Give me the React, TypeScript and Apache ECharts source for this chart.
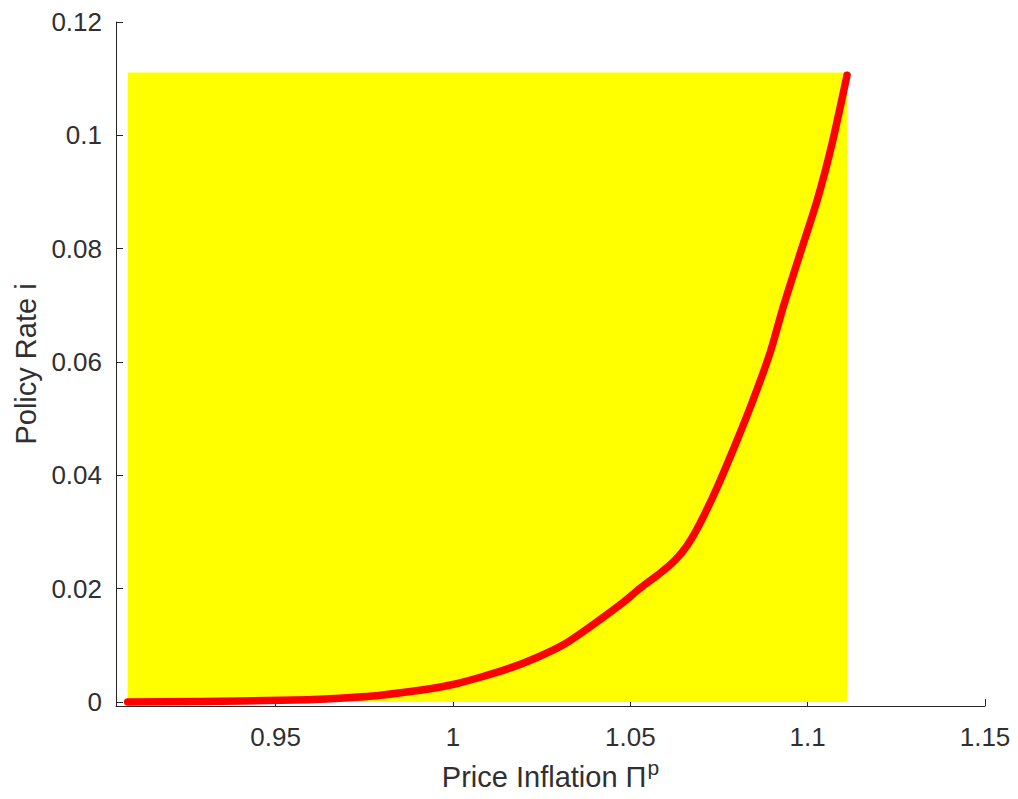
import React, { useEffect, useRef } from "react";
import * as echarts from "echarts";

const inflation = [
  0.9083, 0.9289, 0.9514, 0.9655, 0.9796, 0.9993, 1.017, 1.0311, 1.0472, 1.0528,
  1.0585, 1.0627, 1.0661, 1.0697, 1.0745, 1.0801, 1.0846, 1.0894, 1.0931, 1.0979,
  1.1027, 1.1069, 1.1111,
];
const policyRate = [
  0.0, 0.0001, 0.0003, 0.0006, 0.0012, 0.003, 0.0062, 0.0101, 0.0172, 0.0201,
  0.0228, 0.0251, 0.0277, 0.0316, 0.0379, 0.0462, 0.0533, 0.0616, 0.0697, 0.0792,
  0.0886, 0.0986, 0.1106,
];
const regionX = [0.9083, 1.1111];
const regionY = [0, 0.1111];
const xTicks = [0.95, 1, 1.05, 1.1, 1.15];
const yTicks = [0, 0.02, 0.04, 0.06, 0.08, 0.1, 0.12];
const xRange = [0.905, 1.15];
const yRange = [-0.0007, 0.12];

const AXIS_COLOR = "#262626";
const TEXT_COLOR = "#303030";
const FONT = "'Liberation Sans', Arial, Helvetica, sans-serif";
const TICK_SIZE = 26;
const TITLE_SIZE = 29;

export default function App() {
  const ref = useRef<HTMLDivElement>(null);
  useEffect(() => {
    if (!ref.current) return;
    const chart = echarts.init(ref.current, undefined, { renderer: "svg" });
    const axisCommon = {
      axisLine: { show: true, onZero: false, lineStyle: { color: AXIS_COLOR, width: 1 } },
      axisTick: { show: true, inside: true, length: 7, lineStyle: { color: AXIS_COLOR } },
      splitLine: { show: false },
      nameTextStyle: { color: TEXT_COLOR, fontSize: TITLE_SIZE, fontFamily: FONT },
    };
    const fmt = (v: number) => String(Number(v.toFixed(4)));
    chart.setOption({
      animation: false,
      backgroundColor: "#ffffff",
      grid: {
        left: 116,
        right: 33,
        top: 22,
        bottom: 93,
        containLabel: false,
        outerBoundsMode: "none",
      },
      xAxis: {
        type: "value",
        min: xRange[0],
        max: xRange[1],
        ...axisCommon,
        axisTick: { ...axisCommon.axisTick, customValues: xTicks },
        axisLabel: {
          customValues: xTicks,
          color: TEXT_COLOR,
          fontSize: TICK_SIZE,
          fontFamily: FONT,
          margin: 18,
          formatter: fmt,
        },
        name: "Price Inflation Π{sup|p}",
        nameLocation: "middle",
        nameGap: 56,
        nameTextStyle: {
          color: TEXT_COLOR,
          fontSize: TITLE_SIZE,
          fontFamily: FONT,
          lineHeight: 30,
          rich: {
            sup: { fontSize: 21, color: TEXT_COLOR, fontFamily: FONT, padding: [0, 0, 20, 1] },
          },
        },
      },
      yAxis: {
        type: "value",
        min: yRange[0],
        max: yRange[1],
        ...axisCommon,
        axisTick: { ...axisCommon.axisTick, customValues: yTicks },
        axisLabel: {
          customValues: yTicks,
          color: TEXT_COLOR,
          fontSize: TICK_SIZE,
          fontFamily: FONT,
          margin: 14,
          formatter: fmt,
        },
        name: "Policy Rate i",
        nameLocation: "middle",
        nameGap: 72,
      },
      series: [
        {
          type: "line",
          z: 1,
          data: [],
          silent: true,
          markArea: {
            silent: true,
            itemStyle: { color: "#ffff00", opacity: 1 },
            data: [
              [
                { xAxis: regionX[0], yAxis: regionY[0] },
                { xAxis: regionX[1], yAxis: regionY[1] },
              ],
            ],
          },
        },
        {
          type: "line",
          z: 3,
          showSymbol: false,
          smooth: 0.25,
          lineStyle: { color: "#ff0000", width: 7.5, cap: "round", join: "round" },
          data: inflation.map((x, i) => [x, policyRate[i]]),
        },
      ],
    });
    return () => chart.dispose();
  }, []);
  return (
    <div
      ref={ref}
      style={{ position: "fixed", left: 0, top: 0, width: 1018, height: 799, background: "#fff" }}
    />
  );
}
